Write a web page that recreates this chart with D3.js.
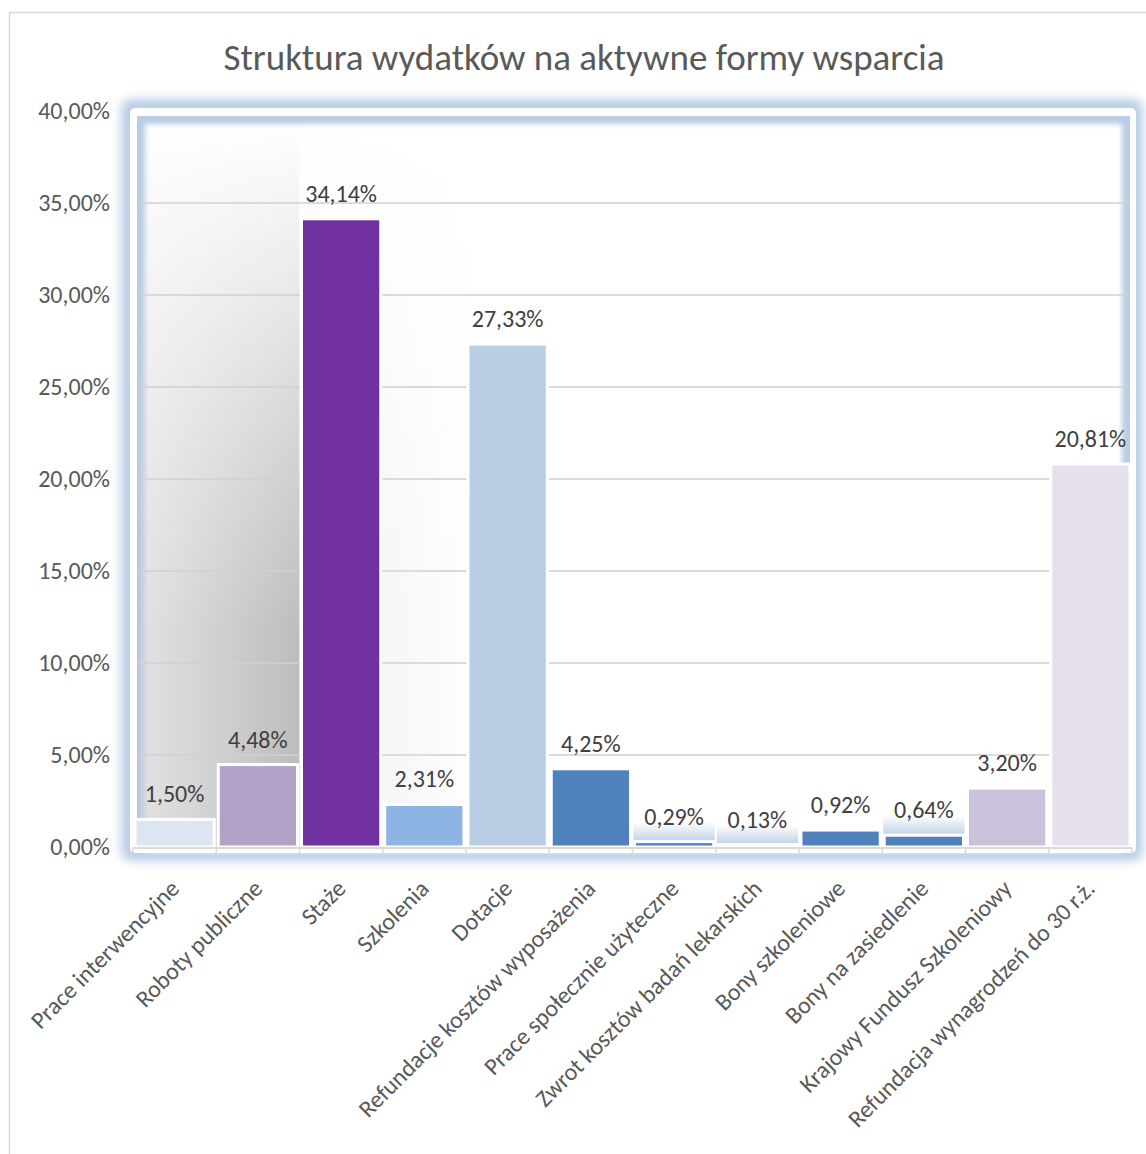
<!DOCTYPE html>
<html>
<head>
<meta charset="utf-8">
<script src="https://cdn.jsdelivr.net/npm/d3@7"></script>
<style>
  body { margin: 0; background: #fff; }
  svg text { font-family: Carlito, Calibri, Lato, sans-serif; }
</style>
</head>
<body>
<div id="chart"></div>
<script>
const title = "Struktura wydatków na aktywne formy wsparcia";

const categories = [
    "Prace interwencyjne",
    "Roboty publiczne",
    "Staże",
    "Szkolenia",
    "Dotacje",
    "Refundacje kosztów wyposażenia",
    "Prace społecznie użyteczne",
    "Zwrot kosztów badań lekarskich",
    "Bony szkoleniowe",
    "Bony na zasiedlenie",
    "Krajowy Fundusz Szkoleniowy",
    "Refundacja wynagrodzeń do 30 r.ż."
];

const values = [1.50, 4.48, 34.14, 2.31, 27.33, 4.25, 0.29, 0.13, 0.92, 0.64, 3.20, 20.81];

const barColors = [
    "#dce6f2", "#b3a2c7", "#7030a0", "#8eb4e3", "#b9cde5", "#4f81bd",
    "#4f81bd", "#b9cde5", "#4f81bd", "#4f81bd", "#ccc1da", "#e6e0ec"
];

const yTicks = [0, 5, 10, 15, 20, 25, 30, 35, 40];

const W = 1146, H = 1154;
const plot = { left: 133, right: 1132, top: 111, bottom: 847 };

const pl = d3.formatLocale({ decimal: ",", thousands: " ", grouping: [3], currency: ["", " zł"] });
const fmt = v => pl.format(".2f")(v) + "%";

const svg = d3.select("#chart").append("svg")
    .attr("width", W)
    .attr("height", H);

const defs = svg.append("defs");

defs.append("filter").attr("id", "glow")
    .attr("x", "-10%").attr("y", "-10%").attr("width", "120%").attr("height", "120%")
    .append("feGaussianBlur").attr("stdDeviation", 5);

defs.append("filter").attr("id", "soft")
    .attr("x", "-10%").attr("y", "-10%").attr("width", "120%").attr("height", "120%")
    .append("feGaussianBlur").attr("stdDeviation", 2.5);

// shadow behind the first bars
const shadeL = defs.append("linearGradient").attr("id", "shadeL");
shadeL.append("stop").attr("offset", "0").attr("stop-color", "#b3c4da");
shadeL.append("stop").attr("offset", "0.07").attr("stop-color", "#e0e0e0");
shadeL.append("stop").attr("offset", "1").attr("stop-color", "#bdbdbd");

const shadeR = defs.append("linearGradient").attr("id", "shadeR");
shadeR.append("stop").attr("offset", "0").attr("stop-color", "#efefef");
shadeR.append("stop").attr("offset", "1").attr("stop-color", "#fdfdfd");

const fade = defs.append("linearGradient").attr("id", "fade")
    .attr("x1", 0).attr("y1", 0).attr("x2", 0).attr("y2", 1);
fade.append("stop").attr("offset", "0").attr("stop-color", "#000");
fade.append("stop").attr("offset", "0.45").attr("stop-color", "#aaa");
fade.append("stop").attr("offset", "0.7").attr("stop-color", "#fff");
fade.append("stop").attr("offset", "1").attr("stop-color", "#fff");
defs.append("mask").attr("id", "fadeMask")
    .attr("maskUnits", "userSpaceOnUse")
    .attr("x", 0).attr("y", 0).attr("width", W).attr("height", H)
    .append("rect")
    .attr("x", 130).attr("y", 120).attr("width", 360).attr("height", 730)
    .attr("fill", "url(#fade)");

const glowUp = defs.append("linearGradient").attr("id", "glowUp")
    .attr("x1", 0).attr("y1", 0).attr("x2", 0).attr("y2", 1);
glowUp.append("stop").attr("offset", "0").attr("stop-color", "#b9cde5").attr("stop-opacity", 0);
glowUp.append("stop").attr("offset", "1").attr("stop-color", "#b9cde5").attr("stop-opacity", 0.9);

// chart area border
svg.append("rect")
    .attr("x", 9.5).attr("y", 12.5)
    .attr("width", W + 20).attr("height", H + 20)
    .attr("fill", "#fff")
    .attr("stroke", "#d9d9d9")
    .attr("stroke-width", 1.5);

// title
svg.append("text")
    .attr("x", 584)
    .attr("y", 70)
    .attr("text-anchor", "middle")
    .attr("font-size", 37)
    .attr("fill", "#595959")
    .text(title);

// plot frame with blue glow
svg.append("rect")
    .attr("x", 121).attr("y", 99)
    .attr("width", 1022).attr("height", 762)
    .attr("rx", 10)
    .attr("fill", "#b9cde5")
    .attr("filter", "url(#glow)");
svg.append("rect")
    .attr("x", 130).attr("y", 108)
    .attr("width", 1006).attr("height", 745)
    .attr("rx", 5)
    .attr("fill", "#fff");
svg.append("rect")
    .attr("x", 137).attr("y", 116)
    .attr("width", 993).attr("height", 732)
    .attr("fill", "#b9cde5");
svg.append("rect")
    .attr("x", 145).attr("y", 124)
    .attr("width", 977).attr("height", 728)
    .attr("fill", "#fff")
    .attr("filter", "url(#soft)");

const x = d3.scaleBand()
    .domain(categories)
    .range([plot.left, plot.right])
    .padding(0);

const y = d3.scaleLinear()
    .domain([0, 40])
    .range([plot.bottom, plot.top]);

// shading
const shade = svg.append("g").attr("mask", "url(#fadeMask)");
shade.append("rect")
    .attr("x", 137).attr("y", 120)
    .attr("width", x(categories[2]) - 137).attr("height", plot.bottom - 120)
    .attr("fill", "url(#shadeL)");
shade.append("rect")
    .attr("x", x(categories[2])).attr("y", 120)
    .attr("width", x(categories[4]) - x(categories[2])).attr("height", plot.bottom - 120)
    .attr("fill", "url(#shadeR)");

// gridlines
svg.append("g")
    .selectAll("line")
    .data(yTicks.filter(t => t > 0 && t < 40))
    .enter()
    .append("line")
    .attr("x1", 137)
    .attr("x2", 1130)
    .attr("y1", d => y(d))
    .attr("y2", d => y(d))
    .attr("stroke", "#d0d0d0")
    .attr("stroke-width", 1.3);

// y tick labels
svg.append("g")
    .selectAll("text")
    .data(yTicks)
    .enter()
    .append("text")
    .attr("x", 110)
    .attr("y", d => y(d))
    .attr("dy", "0.35em")
    .attr("text-anchor", "end")
    .attr("font-size", 24)
    .attr("fill", "#595959")
    .text(d => fmt(d));

// light glow above the smallest bars
svg.append("g")
    .selectAll("rect")
    .data(values.map((v, i) => ({ v, c: categories[i] })).filter(d => d.v < 0.7))
    .enter()
    .append("rect")
    .attr("x", d => x(d.c) + 1)
    .attr("y", d => y(d.v) - 20)
    .attr("width", x.bandwidth() - 2)
    .attr("height", 20)
    .attr("fill", "url(#glowUp)");

// bars
svg.append("g")
    .selectAll("rect")
    .data(values)
    .enter()
    .append("rect")
    .attr("x", (d, i) => x(categories[i]) + 2)
    .attr("y", d => y(d))
    .attr("width", x.bandwidth() - 4)
    .attr("height", d => y(0) - y(d))
    .attr("fill", (d, i) => barColors[i])
    .attr("stroke", "#fff")
    .attr("stroke-width", 3);

// data labels
svg.append("g")
    .selectAll("text")
    .data(values)
    .enter()
    .append("text")
    .attr("x", (d, i) => x(categories[i]) + x.bandwidth() / 2)
    .attr("y", d => y(d) - 17)
    .attr("text-anchor", "middle")
    .attr("font-size", 24)
    .attr("fill", "#404040")
    .text(d => fmt(d));

// category axis
const xAxis = svg.append("g")
    .attr("transform", `translate(0,${plot.bottom + 1})`);
xAxis.append("line")
    .attr("x1", plot.left).attr("x2", plot.right)
    .attr("stroke", "#d9d9d9")
    .attr("stroke-width", 2);
xAxis.selectAll("line.tick")
    .data(categories.concat([null]))
    .enter()
    .append("line")
    .attr("class", "tick")
    .attr("x1", (d, i) => plot.left + i * x.bandwidth())
    .attr("x2", (d, i) => plot.left + i * x.bandwidth())
    .attr("y1", 0)
    .attr("y2", 6)
    .attr("stroke", "#d9d9d9")
    .attr("stroke-width", 1.5);

svg.append("g")
    .selectAll("text")
    .data(categories)
    .enter()
    .append("text")
    .attr("transform", d => `translate(${x(d) + x.bandwidth() / 2 + 6},${plot.bottom + 43}) rotate(-45)`)
    .attr("text-anchor", "end")
    .attr("font-size", 24)
    .attr("fill", "#595959")
    .text(d => d);
</script>
</body>
</html>
